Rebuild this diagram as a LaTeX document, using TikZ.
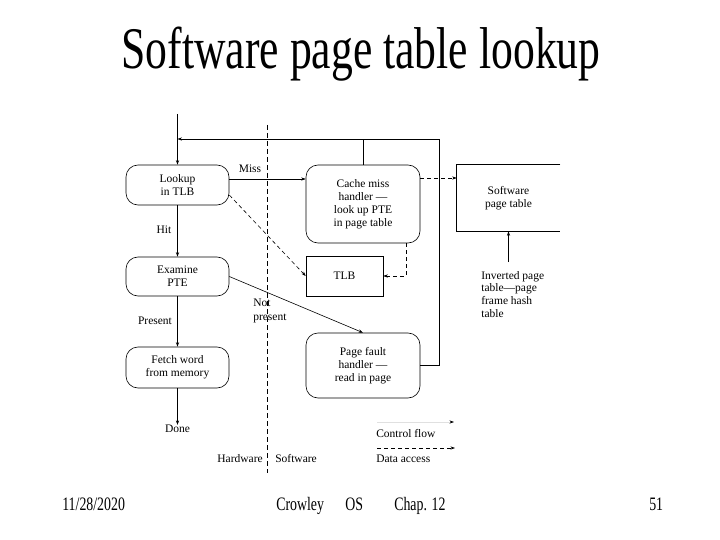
\documentclass[tikz,border=0pt]{standalone}
\usepackage{fontspec}
\setmainfont{Liberation Serif}
\usetikzlibrary{arrows.meta}
\begin{document}
\begin{tikzpicture}[x=1pt,y=-1pt,line width=0.6pt,
  tip/.style={-{Stealth[length=4.5pt,width=3.2pt]}},
  dtip/.style={tip,dash pattern=on 4pt off 3pt},
  divider/.style={dash pattern=on 5pt off 3pt},
  rbox/.style={draw,rounded corners=12pt,minimum width=103pt,inner sep=0pt,align=center,font=\fontsize{11.5}{13}\selectfont},
  sbox/.style={inner sep=0pt,align=center,font=\fontsize{11.5}{13}\selectfont},
  lbl/.style={inner sep=0pt,font=\fontsize{11.5}{13.5}\selectfont},
  foot/.style={inner sep=0pt,font=\fontsize{19}{19}\selectfont}]
\useasboundingbox (0,0) rectangle (720,540);
\fill[white] (0,0) rectangle (720,540);
% title
\node[inner sep=0pt,anchor=base] (title) at (361,69) {\scalebox{0.74}[1]{\fontsize{59}{59}\selectfont Software page table lookup}};
% left column
\node[rbox,minimum height=40pt] (lookup) at (177.5,185) {Lookup\\in TLB};
\node[rbox,minimum height=39pt] (examine) at (177.5,276.5) {Examine\\PTE};
\node[rbox,minimum height=41pt] (fetch) at (177.5,367.5) {Fetch word\\from memory};
\node[lbl] (done) at (177.5,429) {Done};
% right column
\node[rbox,minimum width=114pt,minimum height=78pt] (cache) at (363,204) {Cache miss\\handler —\\look up PTE\\in page table};
\node[sbox,draw,minimum width=77pt,minimum height=40pt] (tlb) at (344.5,276) {TLB};
\node[rbox,minimum width=114pt,minimum height=65pt] (pf) at (363,365.5) {Page fault\\handler —\\read in page};
\node[sbox,minimum width=103pt,minimum height=66pt] (spt) at (508.5,198) {Software\\page table};
\draw (spt.north east) -- (spt.north west) -- (spt.south west) -- (spt.south east);
\node[inner sep=0pt,anchor=north west,align=left,font=\fontsize{11.5}{12.6}\selectfont] (inv) at (481,271) {Inverted page\\table—page\\frame hash\\table};
% labels
\node[lbl] (miss) at (250,169) {Miss};
\node[lbl] (hit) at (164,230) {Hit};
\node[lbl] (present) at (155,321) {Present};
\node[lbl,anchor=north west,align=left] (notp) at (253,299) {Not\\present};
\node[lbl,anchor=east] (hw) at (263,459) {Hardware};
\node[lbl,anchor=west] (sw) at (275,459) {Software};
\node[lbl,anchor=west] (cfl) at (376,434) {Control flow};
\node[lbl,anchor=west] (dal) at (376,459) {Data access};
% coordinates
\coordinate (top) at (177.5,114);
\coordinate (ret) at (439,139);
\coordinate (invtop) at (508.5,262);
\coordinate (div1) at (267,125);
\coordinate (div2) at (267,473);
\coordinate (cf1) at (377,422);
\coordinate (cf2) at (454,422);
\coordinate (da1) at (377,448);
\coordinate (da2) at (455,448);
% divider
\draw[divider] (div1) -- (div2);
% control flow
\draw[tip] (top) -- (lookup.north);
\draw[tip] (lookup) -- (examine);
\draw[tip] (examine) -- (fetch);
\draw[tip] (fetch) -- (done);
\draw[tip] ([yshift=6pt]lookup.east) coordinate (m1) -- (m1 -| cache.west);
\draw[tip] (examine.east) -- (pf.north);
\draw (cache.north) -- (cache.north |- ret);
\draw[tip] (pf.east) -- (pf.east -| ret) -- (ret) -- (ret -| lookup.north);
\draw[tip] (invtop) -- (spt.south);
% data access
\draw[dtip] ([yshift=-10pt]lookup.east) -- (tlb.west);
\draw[dtip] ([xshift=43pt]cache.south) |- (tlb.east);
\draw[dtip] ([yshift=26pt]cache.east) coordinate (c1) -- (c1 -| spt.west);
% legend
\draw[-{Stealth[length=4.5pt,width=3.2pt,color=black]},draw=black!12] (cf1) -- (cf2);
\draw[dtip] (da1) -- (da2);
% footer
\node[foot,anchor=base west] (date) at (62,510) {\scalebox{0.73}[1]{11/28/2020}};
\node[foot,anchor=base west] (auth) at (276,510) {\scalebox{0.73}[1]{Crowley}};
\node[foot,anchor=base west] (os) at (345,510) {\scalebox{0.73}[1]{OS}};
\node[foot,anchor=base west] (chap) at (394,510) {\scalebox{0.73}[1]{Chap. 12}};
\node[foot,anchor=base west] (pg) at (649,510) {\scalebox{0.73}[1]{51}};
\end{tikzpicture}
\end{document}
